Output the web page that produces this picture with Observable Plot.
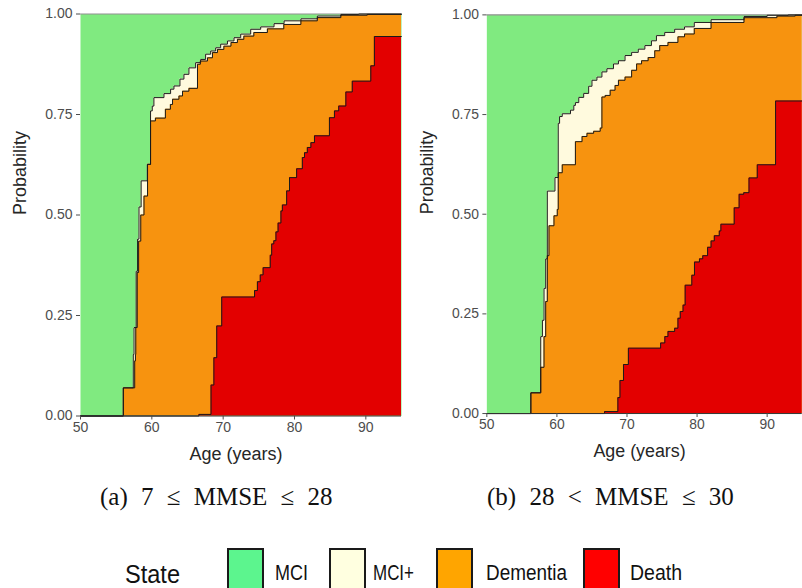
<!DOCTYPE html>
<html><head><meta charset="utf-8">
<script src="https://cdn.jsdelivr.net/npm/d3@7"></script>
<script src="https://cdn.jsdelivr.net/npm/@observablehq/plot@0.6"></script>
<style>
html,body{margin:0;padding:0;background:#fff;overflow:hidden;}
#root{position:relative;width:802px;height:588px;overflow:hidden;background:#fff;}
#pa{position:absolute;left:0;top:0;}
#pb{position:absolute;left:407.3px;top:0.5px;}
#ov{position:absolute;left:0;top:0;}
</style></head><body>
<div id="root"><div id="pa"></div><div id="pb"></div><svg id="ov" width="802" height="588"></svg></div>
<script>
// ---- Panel (a): 7 <= MMSE <= 28 — cumulative upper edge of each band (step-after) ----
const ageA_death = [50, 66.6, 68.3, 68.7, 69.1, 69.8, 74.4, 74.8, 75.2, 75.6, 76.6, 76.8, 77.1, 77.4, 77.7, 78.1, 78.3, 78.9, 79.3, 80.3, 81.1, 81.4, 81.8, 82.3, 82.8, 84.9, 85.6, 86.2, 87.2, 88.1, 90.7, 91.2, 95];
const cumA_death = [0, 0.004, 0.077, 0.145, 0.224, 0.296, 0.312, 0.334, 0.351, 0.369, 0.400, 0.428, 0.436, 0.458, 0.480, 0.510, 0.525, 0.560, 0.593, 0.615, 0.643, 0.655, 0.668, 0.680, 0.697, 0.742, 0.759, 0.771, 0.806, 0.833, 0.871, 0.944, 0.944];

const ageA_dementia = [50, 56.0, 57.6, 57.7, 57.75, 57.95, 58.15, 58.45, 58.9, 59.4, 59.82, 60.5, 61.9, 62.6, 62.9, 63.8, 64.3, 65.2, 66.4, 66.8, 67.8, 68.5, 69.2, 70.1, 71.1, 72.0, 72.9, 74.3, 76.2, 78.5, 80.9, 83.2, 86.5, 90.2, 95];
const cumA_dementia = [0, 0.07, 0.137, 0.153, 0.22, 0.357, 0.435, 0.50, 0.547, 0.626, 0.734, 0.741, 0.763, 0.775, 0.788, 0.796, 0.808, 0.815, 0.875, 0.883, 0.891, 0.904, 0.912, 0.920, 0.929, 0.937, 0.945, 0.954, 0.963, 0.974, 0.983, 0.991, 0.997, 0.999, 0.999];

const ageA_mciPlus = [50, 56.0, 57.4, 57.5, 57.8, 58.0, 58.2, 58.5, 59.36, 59.82, 60.06, 60.29, 61.7, 62.63, 63.1, 63.94, 64.5, 65.2, 66.14, 66.84, 67.54, 68.25, 68.95, 69.65, 70.6, 71.52, 72.46, 73.86, 75.26, 77.13, 78.54, 80.9, 83.2, 86.5, 89.0, 95];
const cumA_mciPlus = [0, 0.07, 0.153, 0.22, 0.36, 0.44, 0.52, 0.585, 0.626, 0.759, 0.771, 0.792, 0.802, 0.813, 0.821, 0.838, 0.85, 0.866, 0.879, 0.887, 0.90, 0.908, 0.916, 0.925, 0.933, 0.941, 0.95, 0.962, 0.968, 0.976, 0.983, 0.988, 0.995, 0.999, 1.0, 1.0];

// ---- Panel (b): 28 < MMSE <= 30 ----
const ageB_death = [50, 66.8, 68.7, 69.0, 69.5, 70.2, 74.8, 75.4, 75.85, 76.8, 77.27, 77.6, 78.0, 78.3, 79.25, 79.63, 80.34, 80.81, 81.5, 82.0, 82.46, 83.17, 83.4, 85.3, 86.0, 86.66, 87.41, 88.59, 91.2, 95];
const cumB_death = [0, 0.005, 0.04, 0.083, 0.123, 0.164, 0.177, 0.193, 0.206, 0.214, 0.239, 0.256, 0.272, 0.322, 0.347, 0.38, 0.388, 0.396, 0.417, 0.433, 0.446, 0.458, 0.475, 0.516, 0.55, 0.554, 0.591, 0.624, 0.784, 0.784];

const ageB_dementia = [50, 56.28, 57.69, 58.16, 58.4, 58.63, 58.87, 59.58, 60.05, 60.19, 60.76, 62.64, 63.59, 64.29, 65.24, 66.18, 66.42, 66.89, 67.6, 68.3, 68.78, 69.72, 70.66, 71.37, 72.08, 73.02, 73.96, 74.67, 75.85, 77.27, 78.21, 79.6, 82.0, 86.7, 91.4, 94.0, 95];
const cumB_dementia = [0, 0.052, 0.116, 0.193, 0.281, 0.396, 0.471, 0.496, 0.512, 0.604, 0.624, 0.682, 0.695, 0.703, 0.708, 0.716, 0.794, 0.798, 0.811, 0.823, 0.836, 0.844, 0.861, 0.877, 0.885, 0.893, 0.910, 0.923, 0.931, 0.945, 0.952, 0.966, 0.981, 0.993, 0.997, 0.999, 0.999];

const ageB_mciPlus = [50, 56.28, 57.69, 57.93, 58.16, 58.4, 58.63, 59.72, 60.19, 60.38, 60.76, 61.94, 62.41, 62.64, 63.12, 63.82, 64.53, 65.0, 65.71, 66.42, 67.13, 68.07, 68.78, 69.72, 70.66, 71.61, 72.55, 73.49, 74.2, 75.38, 76.8, 78.21, 79.6, 82.0, 86.7, 90.0, 93.0, 95];
const cumB_mciPlus = [0, 0.052, 0.193, 0.234, 0.314, 0.388, 0.558, 0.592, 0.728, 0.745, 0.752, 0.761, 0.773, 0.78, 0.793, 0.803, 0.821, 0.836, 0.844, 0.857, 0.865, 0.877, 0.885, 0.898, 0.906, 0.914, 0.923, 0.935, 0.948, 0.956, 0.964, 0.970, 0.981, 0.988, 0.996, 0.999, 1.0, 1.0];

// ---- axes, labels, legend ----
const xTicks = [50, 60, 70, 80, 90];
const yTicks = [0, 0.25, 0.5, 0.75, 1];
const states = ["MCI", "MCI+", "Dementia", "Death"];
const plotColors = ["#80EA80", "#FFFADE", "#F7930F", "#E30000"];
const legendColors = ["#5CF58E", "#FFFFE0", "#FFA500", "#FF0000"];
const captions = ["(a) 7 \u2264 MMSE \u2264 28", "(b) 28 < MMSE \u2264 30"];

const rows = (ages, cums) => ages.map((a, i) => ({age: a, p: cums[i]}));

function panel(death, dementia, mciPlus, width) {
  const step = "step-after";
  const edge = {x: "age", y: "p", curve: step, stroke: "#1a1a1a", strokeWidth: 1};
  return Plot.plot({
    width, height: 470,
    marginLeft: 80, marginRight: 0, marginTop: 13.5, marginBottom: 54.5,
    x: {domain: [50, 95]},
    y: {domain: [0, 1]},
    style: {fontFamily: "'Liberation Sans', Arial, sans-serif", fontSize: "14px", background: "transparent", overflow: "visible"},
    marks: [
      Plot.frame({fill: plotColors[0], stroke: null}),
      Plot.areaY(mciPlus, {x: "age", y1: 0, y2: "p", curve: step, fill: plotColors[1]}),
      Plot.areaY(dementia, {x: "age", y1: 0, y2: "p", curve: step, fill: plotColors[2]}),
      Plot.areaY(death, {x: "age", y1: 0, y2: "p", curve: step, fill: plotColors[3]}),
      Plot.ruleY([1], {stroke: "#8f8f8f", strokeWidth: 1.2}),
      Plot.lineY(mciPlus, edge),
      Plot.lineY(dementia, edge),
      Plot.lineY(death, edge),
      Plot.ruleY([0], {stroke: "#333", strokeWidth: 1}),
      Plot.axisX({ticks: xTicks, tickSize: 4, tickPadding: 2, color: "#4d4d4d", label: null}),
      Plot.axisY({ticks: yTicks, tickFormat: d3.format(".2f"), tickSize: 4, tickPadding: 4, color: "#4d4d4d", label: null}),
      Plot.text(["Probability"], {text: d => d, frameAnchor: "left", dx: -60, rotate: -90, fontSize: 18, fill: "#262626"}),
      Plot.text(["Age (years)"], {text: d => d, frameAnchor: "bottom", lineAnchor: "bottom", dy: 43.5, dx: -5, fontSize: 18, fill: "#262626"})
    ]
  });
}

document.getElementById("pa").appendChild(panel(rows(ageA_death, cumA_death), rows(ageA_dementia, cumA_dementia), rows(ageA_mciPlus, cumA_mciPlus), 401));
document.getElementById("pb").appendChild(panel(rows(ageB_death, cumB_death), rows(ageB_dementia, cumB_dementia), rows(ageB_mciPlus, cumB_mciPlus), 398));

// ---- captions and legend (below the plots) ----
const ov = d3.select("#ov");
const capX = [100, 487];
captions.forEach((c, i) => {
  ov.append("text").attr("x", capX[i]).attr("y", 505)
    .style("font-family", "'Liberation Serif', 'Times New Roman', serif").style("font-size", "25px")
    .style("word-spacing", "7px").attr("fill", "#111")
    .text(c);
});
ov.append("text").attr("x", 125).attr("y", 583).attr("textLength", 55).attr("lengthAdjust", "spacingAndGlyphs")
  .style("font-family", "'Liberation Sans', Arial, sans-serif").style("font-size", "25px").attr("fill", "#111").text("State");
const boxX = [228, 330, 437, 584];
const labX = [275, 373, 486, 630];
const labW = [33, 41, 81, 52];
states.forEach((s, i) => {
  ov.append("rect").attr("x", boxX[i]).attr("y", 549).attr("width", 35).attr("height", 42)
    .attr("fill", legendColors[i]).attr("stroke", "#1a1a1a").attr("stroke-width", 2);
  ov.append("text").attr("x", labX[i]).attr("y", 580).attr("textLength", labW[i]).attr("lengthAdjust", "spacingAndGlyphs")
    .style("font-family", "'Liberation Sans', Arial, sans-serif").style("font-size", "22px").attr("fill", "#111").text(s);
});
</script>
</body></html>
